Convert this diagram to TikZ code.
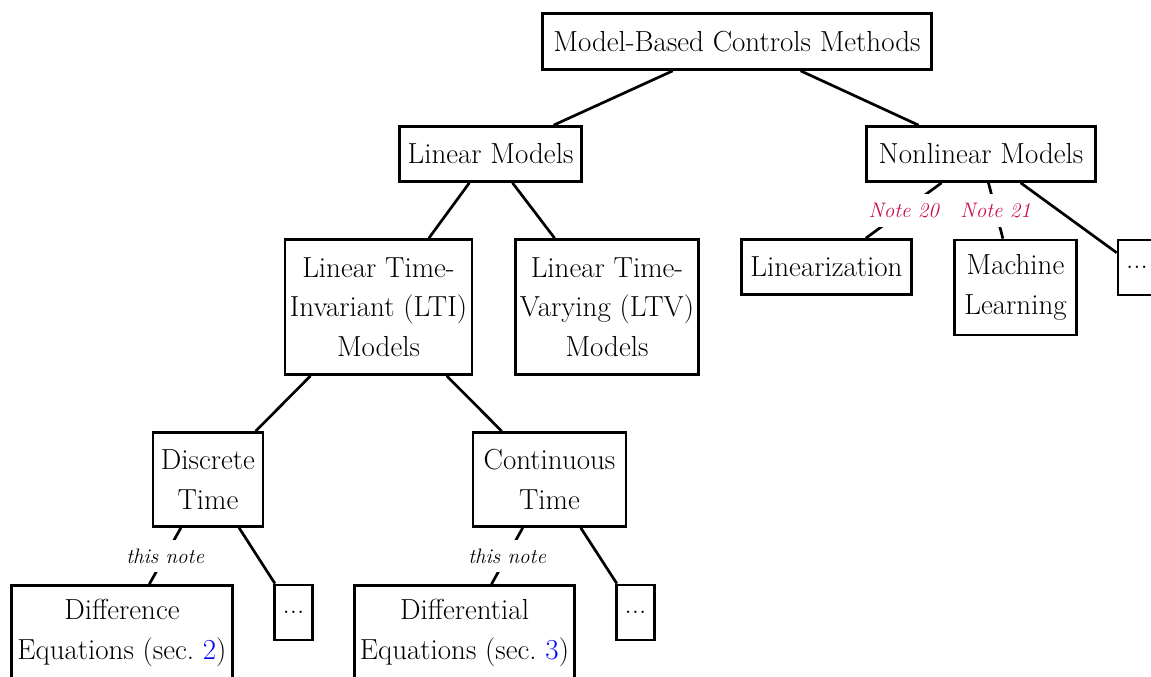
\documentclass[tikz,border=0pt]{standalone}
\usepackage{xcolor}
\definecolor{notecol}{RGB}{200,12,78}
\definecolor{refblue}{RGB}{0,0,255}
\begin{document}
\begin{tikzpicture}[x=1pt,y=-1pt,
  box/.style={draw=black, line width=2.7pt, inner sep=0pt, align=center,
    font=\fontsize{29}{39.6}\selectfont},
  edge/.style={line width=2.7pt},
  lbl/.style={fill=white, inner sep=9pt, font=\fontsize{21}{25}\selectfont\itshape},
  nlbl/.style={lbl, text=notecol}]
\useasboundingbox (0,0) rectangle (1151,677);
\clip (0,0) rectangle (1151,677);
\node[box, minimum width=389pt, minimum height=56pt] (root) at (737,41.5) {Model-Based Controls Methods};
\node[box, minimum width=182pt, minimum height=55pt] (lin) at (490.5,154) {Linear Models};
\node[box, minimum width=229pt, minimum height=55pt] (nonlin) at (981,154) {Nonlinear Models};
\node[box, minimum width=187pt, minimum height=135pt] (lti) at (378.5,307) {Linear Time-\\Invariant (LTI)\\Models};
\node[box, minimum width=183pt, minimum height=135pt] (ltv) at (607,307) {Linear Time-\\Varying (LTV)\\Models};
\node[box, minimum width=170pt, minimum height=55pt] (linz) at (826.5,267) {Linearization};
\node[box, minimum width=122pt, minimum height=95pt] (ml) at (1015.5,287.5) {Machine\\Learning};
\node[box, minimum width=38pt, minimum height=55pt] (dotsa) at (1137,267.5) {...};
\node[box, minimum width=110pt, minimum height=94pt] (dt) at (208,479.5) {Discrete\\Time};
\node[box, minimum width=153pt, minimum height=94pt] (ct) at (549.5,479.5) {Continuous\\Time};
\node[box, minimum width=221pt, minimum height=95pt] (de) at (122,633) {Difference\\Equations (sec.~\textcolor{refblue}{2})};
\node[box, minimum width=38pt, minimum height=55pt] (dotsb) at (293.5,612.5) {...};
\node[box, minimum width=220pt, minimum height=95pt] (dq) at (464.5,633) {Differential\\Equations (sec.~\textcolor{refblue}{3})};
\node[box, minimum width=38pt, minimum height=55pt] (dotsc) at (635.5,612.5) {...};
\draw[edge] (root) -- (lin);
\draw[edge] (root) -- (nonlin);
\draw[edge] (lin) -- (lti);
\draw[edge] (lin) -- (ltv);
\draw[edge] (nonlin) -- node[nlbl] {Note 20} (linz);
\draw[edge] (nonlin) -- node[nlbl] {Note 21} (ml);
\draw[edge] (nonlin) -- (dotsa);
\draw[edge] (lti) -- (dt);
\draw[edge] (lti) -- (ct);
\draw[edge] (dt) -- node[lbl] {this note} (de);
\draw[edge] (dt) -- (dotsb);
\draw[edge] (ct) -- node[lbl] {this note} (dq);
\draw[edge] (ct) -- (dotsc);
\end{tikzpicture}
\end{document}
